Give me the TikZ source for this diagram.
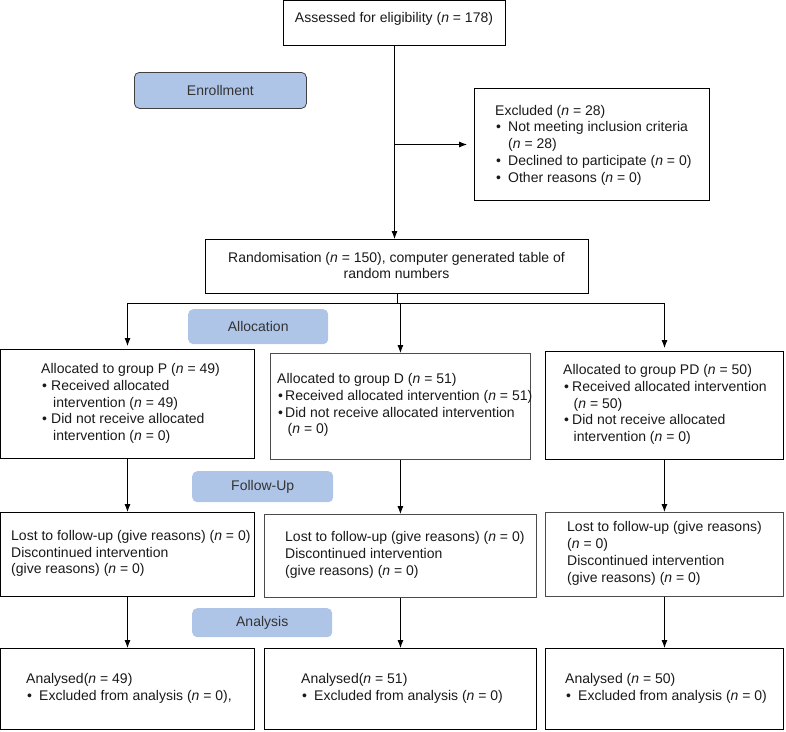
\documentclass[tikz,border=0pt]{standalone}
\usepackage{fontspec}
\setmainfont{Liberation Sans}
\usetikzlibrary{arrows.meta}
\definecolor{stagefill}{RGB}{175,197,232}
\newcommand{\nn}{\textit{n}}
\newcommand{\itm}[1][13pt]{\makebox[#1][l]{\hspace{1pt}\textbullet}\ignorespaces}

\begin{document}
\begin{tikzpicture}[x=1pt,y=-1pt,>={Latex[length=8pt,width=6pt]},
  font=\fontsize{14}{16.8}\selectfont,
  box/.style={draw, line width=1pt, anchor=north west, inner sep=0pt},
  softbox/.style={box, draw=black!70, line width=0.8pt},
  txt/.style={anchor=west, align=left, inner sep=0pt, text=black!90},
  stage/.style={fill=stagefill, rounded corners=5pt, anchor=north west, inner sep=0pt, text=black!80},
  link/.style={->, line width=0.8pt}]
\useasboundingbox (0,0) rectangle (786,731);

% boxes
\draw (283,0) node[box, minimum width=222, minimum height=45] (assess) {};
\draw (474,88) node[box, minimum width=235, minimum height=112] (excl) {};
\draw (205,239) node[box, minimum width=383, minimum height=54] (rand) {};
\draw (0,349) node[box, minimum width=254, minimum height=109] (allocP) {};
\draw (270,353) node[softbox, minimum width=260, minimum height=106] (allocD) {};
\draw (545,351) node[box, minimum width=238, minimum height=108] (allocPD) {};
\draw (0,512) node[box, minimum width=254, minimum height=84] (lostP) {};
\draw (264,514) node[softbox, minimum width=272, minimum height=83] (lostD) {};
\draw (545,512) node[softbox, minimum width=238, minimum height=84] (lostPD) {};
\draw (0,648) node[box, minimum width=254, minimum height=81] (anaP) {};
\draw (264,648) node[box, minimum width=272, minimum height=81] (anaD) {};
\draw (545,648) node[box, minimum width=238, minimum height=81] (anaPD) {};

% stage labels
\draw (134,72) node[stage, draw=black!75, line width=0.8pt, minimum width=172, minimum height=36] (enrol) {Enrollment};
\draw (188,309) node[stage, minimum width=140, minimum height=35] (alloc) {Allocation};
\draw (192,471) node[stage, minimum width=141, minimum height=31] (follow) {Follow-Up};
\draw (192,608) node[stage, minimum width=140, minimum height=29] (analysis) {Analysis};

% texts
\draw (394,19) node[txt, anchor=center] (assesstxt) {Assessed for eligibility (\nn{} = 178)};
\draw (495,145) node[txt] (excltxt) {Excluded (\nn{} = 28)\\
  \itm Not meeting inclusion criteria\\
  \hspace*{13pt}(\nn{} = 28)\\
  \itm Declined to participate (\nn{} = 0)\\
  \itm Other reasons (\nn{} = 0)};
\draw (396.5,265.5) node[txt, anchor=center, align=center] (randtxt) {Randomisation (\nn{} = 150), computer generated table of\\ random numbers};
\draw (41,403.5) node[txt] (allocPtxt) {Allocated to group P (\nn{} = 49)\\
  \itm[10pt] Received allocated\\
  \hspace*{12pt}intervention (\nn{} = 49)\\
  \itm[10pt] Did not receive allocated\\
  \hspace*{12pt}intervention (\nn{} = 0)};
\draw (277,405) node[txt] (allocDtxt) {Allocated to group D (\nn{} = 51)\\
  \itm[8pt] Received allocated intervention (\nn{} = 51)\\
  \itm[8pt] Did not receive allocated intervention\\
  \hspace*{10.5pt}(\nn{} = 0)};
\draw (563,404.5) node[txt] (allocPDtxt) {Allocated to group PD (\nn{} = 50)\\
  \itm[9pt] Received allocated intervention\\
  \hspace*{10.5pt}(\nn{} = 50)\\
  \itm[9pt] Did not receive allocated\\
  \hspace*{10.5pt}intervention (\nn{} = 0)};
\draw (11,553.5) node[txt] (lostPtxt) {Lost to follow-up (give reasons) (\nn{} = 0)\\
  Discontinued intervention\\
  (give reasons) (\nn{} = 0)};
\draw (285,555) node[txt] (lostDtxt) {Lost to follow-up (give reasons) (\nn{} = 0)\\
  Discontinued intervention\\
  (give reasons) (\nn{} = 0)};
\draw (567,553.5) node[txt] (lostPDtxt) {Lost to follow-up (give reasons)\\
  (\nn{} = 0)\\
  Discontinued intervention\\
  (give reasons) (\nn{} = 0)};
\draw (26,688.5) node[txt] (anaPtxt) {Analysed(\nn{} = 49)\\
  \itm Excluded from analysis (\nn{} = 0),};
\draw (301,688.5) node[txt] (anaDtxt) {Analysed(\nn{} = 51)\\
  \itm Excluded from analysis (\nn{} = 0)};
\draw (565,688.5) node[txt] (anaPDtxt) {Analysed (\nn{} = 50)\\
  \itm Excluded from analysis (\nn{} = 0)};

% connectors
\coordinate (split) at ([yshift=-9pt]rand.south);
\draw[link] (assess.south) -- (assess.south |- rand.north);
\draw[link, shorten >=7pt] (assess.south |- excl.west) -- (excl.west);
\draw[line width=0.8pt] (rand.south) -- (split);
\draw[link, shorten >=3pt] (split) -| (allocP.north);
\draw[link, shorten >=3pt] (split) -| (allocPD.north);
\draw[link] (split) -| (allocD.north);
\draw[link] (allocP) -- (lostP);
\draw[link] (allocD) -- (lostD);
\draw[link] (allocPD) -- (lostPD);
\draw[link] (lostP) -- (anaP);
\draw[link] (lostD) -- (anaD);
\draw[link] (lostPD) -- (anaPD);
\end{tikzpicture}
\end{document}
